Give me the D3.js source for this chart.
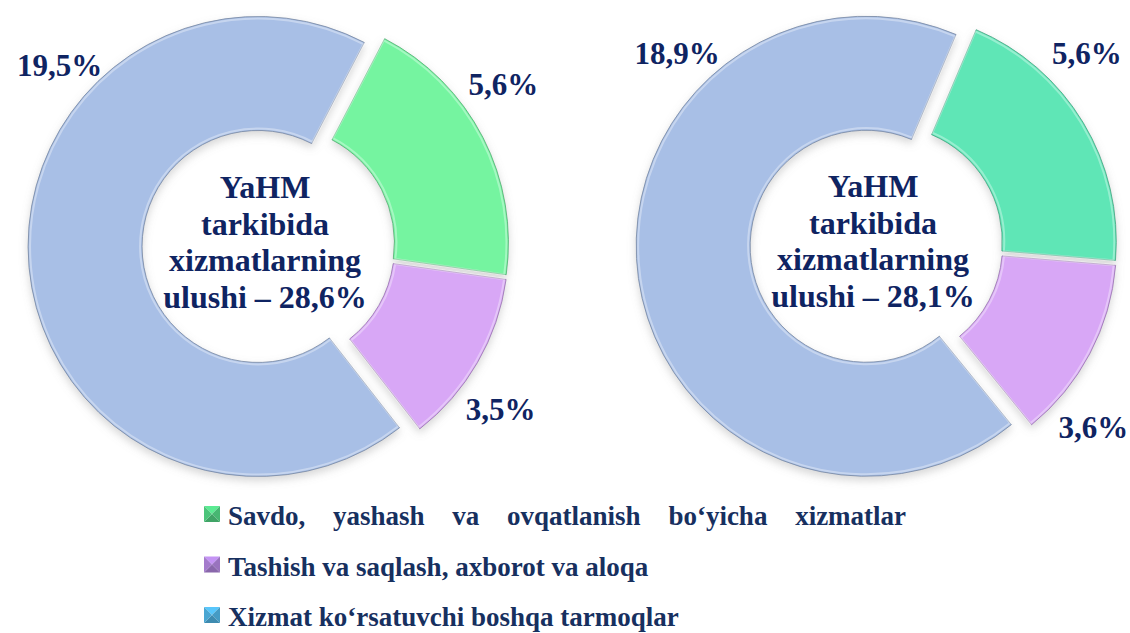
<!DOCTYPE html>
<html>
<head>
<meta charset="utf-8">
<script src="https://cdn.jsdelivr.net/npm/d3@7"></script>
</head>
<body style="margin:0">
<svg id="chart" width="1130" height="633" font-family="Liberation Serif" font-weight="bold"></svg>
<script>
// categories (legend order = slice order)
var categories = [
  "Savdo, yashash va ovqatlanish bo\u2018yicha xizmatlar",
  "Tashish va saqlash, axborot va aloqa",
  "Xizmat ko\u2018rsatuvchi boshqa tarmoqlar"
];
// shares in GDP, %
var valuesLeft = [5.6, 3.5, 19.5];
var valuesRight = [5.6, 3.6, 18.9];
var centerLines = ["YaHM", "tarkibida", "xizmatlarning", "ulushi \u2013 "];

var navy = "#0f2462";
var fontName = "Liberation Serif";

var svg = d3.select("#chart");

// soft shadow under the rings
var shadow = svg.append("defs").append("filter").attr("id", "shadow")
  .attr("x", "-10%").attr("y", "-10%").attr("width", "120%").attr("height", "125%");
shadow.append("feDropShadow")
  .attr("dx", 0).attr("dy", 4).attr("stdDeviation", 4)
  .attr("flood-color", "#8a8a8a").attr("flood-opacity", 0.35);

var charts = [
  {values: valuesLeft, cx: 274, cy: 245, start: 27.5,
   colors: ["#74f4a0", "#d8a7f6", "#a8bfe6"], labelAngles: [55, 126, 310]},
  {values: valuesRight, cx: 882, cy: 244, start: 23,
   colors: ["#5ee6b6", "#d8a7f6", "#a8bfe6"], labelAngles: [47, 131, 313]}
];

var outerR = 230, innerR = 116, labelR = 280;
var explode = [5, 5, 16];
var rad = Math.PI / 180;

function fmt(v) { return v.toFixed(1).replace(".", ",") + "%"; }

var arc = d3.arc().outerRadius(outerR).innerRadius(innerR);
var rim = d3.arc().outerRadius(outerR - 2).innerRadius(innerR + 2);

charts.forEach(function(ch) {
  var pie = d3.pie()
    .sort(null)
    .startAngle(ch.start * rad)
    .endAngle(ch.start * rad + 2 * Math.PI)
    .value(function(d) { return d; });

  var g = svg.append("g")
    .attr("transform", "translate(" + ch.cx + "," + ch.cy + ")");

  /* ------- SLICES -------*/
  var slice = g.append("g").attr("class", "slices")
    .attr("filter", "url(#shadow)")
    .selectAll("g")
    .data(pie(ch.values))
    .enter().append("g")
    .attr("transform", function(d, i) {
      var mid = (d.startAngle + d.endAngle) / 2;
      return "translate(" + (Math.sin(mid) * explode[i]) + "," + (-Math.cos(mid) * explode[i]) + ")";
    });

  slice.append("path")
    .attr("d", arc)
    .attr("fill", function(d, i) { return ch.colors[i]; })
    .attr("stroke", function(d, i) { return d3.color(ch.colors[i]).darker(1); })
    .attr("stroke-width", 0.8);

  // faint inner highlight for the bevelled look
  slice.append("path")
    .attr("d", rim)
    .attr("fill", "none")
    .attr("stroke", "#ffffff")
    .attr("stroke-opacity", 0.35)
    .attr("stroke-width", 2);

  /* ------- VALUE LABELS -------*/
  g.append("g").attr("class", "labels")
    .selectAll("text")
    .data(ch.values)
    .enter().append("text")
    .attr("x", function(d, i) { return Math.sin(ch.labelAngles[i] * rad) * labelR; })
    .attr("y", function(d, i) { return -Math.cos(ch.labelAngles[i] * rad) * labelR; })
    .attr("text-anchor", "middle")
    .attr("dominant-baseline", "central")
    .attr("font-family", fontName)
    .attr("font-weight", "bold")
    .attr("font-size", 31)
    .attr("fill", navy)
    .text(function(d) { return fmt(d); });

  /* ------- CENTER TEXT -------*/
  var total = d3.sum(ch.values);
  var lines = centerLines.slice();
  lines[3] = lines[3] + fmt(total);
  g.append("text")
    .attr("text-anchor", "middle")
    .attr("font-family", fontName)
    .attr("font-weight", "bold")
    .attr("font-size", 32)
    .attr("fill", navy)
    .selectAll("tspan")
    .data(lines)
    .enter().append("tspan")
    .attr("x", -9)
    .attr("y", function(d, i) { return -47 + i * 36.5; })
    .text(function(d) { return d; });
});

/* ------- LEGEND -------*/
var legendColors = ["#4cc47a", "#a47bcc", "#4aa6d2"];
var m = 16;
var legend = svg.append("g").attr("class", "legend")
  .selectAll("g")
  .data(categories)
  .enter().append("g")
  .attr("transform", function(d, i) { return "translate(204," + (525 + i * 50.5) + ")"; });

// little pyramid-like markers
legend.each(function(d, i) {
  var c = d3.color(legendColors[i]);
  var tri = [
    {p: [[0, -m - 3], [m, -m - 3], [m / 2, -m / 2 - 3]], f: c.brighter(0.5)},
    {p: [[m, -m - 3], [m, -3], [m / 2, -m / 2 - 3]], f: c.darker(0.2)},
    {p: [[0, -3], [m, -3], [m / 2, -m / 2 - 3]], f: c.darker(0.5)},
    {p: [[0, -m - 3], [0, -3], [m / 2, -m / 2 - 3]], f: c}
  ];
  d3.select(this).selectAll("path").data(tri).enter().append("path")
    .attr("d", function(t) { return "M" + t.p.join("L") + "Z"; })
    .attr("fill", function(t) { return t.f; });
});

legend.append("text")
  .attr("x", 24)
  .attr("y", 0)
  .attr("font-family", fontName)
  .attr("font-weight", "bold")
  .attr("font-size", 27)
  .attr("word-spacing", function(d, i) { return i === 0 ? 21 : 0; })
  .attr("fill", "#17305f")
  .text(function(d) { return d; });
</script>
</body>
</html>
